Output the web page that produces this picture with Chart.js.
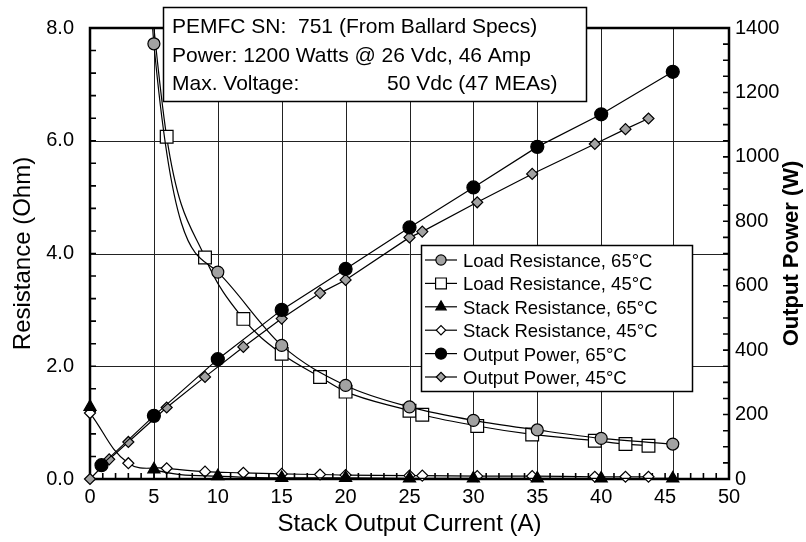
<!DOCTYPE html>
<html>
<head>
<meta charset="utf-8">
<script src="https://cdn.jsdelivr.net/npm/chart.js@4.4.1/dist/chart.umd.min.js"></script>
<style>
  body { margin: 0; background: #fff; }
  #wrap { width: 806px; height: 542px; }
</style>
</head>
<body>
<div id="wrap"><canvas id="fuelCellChart" width="806" height="542"></canvas></div>
<script>
// 65 C runs
const curLoad65  = [0.9, 5, 10, 15, 20, 25, 30, 35, 40, 45.6];
const loadR65    = [53, 7.72, 3.67, 2.37, 1.66, 1.28, 1.04, 0.87, 0.72, 0.62];
const curStack65 = [0, 5, 10, 15, 20, 25, 30, 35, 40, 45.6];
const stackR65   = [1.28, 0.17, 0.05, 0.02, 0.02, 0.01, 0.01, 0.01, 0.01, 0.01];
const curPow65   = [0.9, 5, 10, 15, 20, 25, 30, 35, 40, 45.6];
const pow65      = [43, 196, 372, 525, 652, 781, 905, 1031, 1132, 1264];

// 45 C runs
const curLoad45  = [3, 6, 9, 12, 15, 18, 20, 25, 26, 30.3, 34.6, 39.5, 41.9, 43.7];
const loadR45    = [12.8, 6.07, 3.93, 2.84, 2.22, 1.81, 1.55, 1.21, 1.14, 0.94, 0.79, 0.68, 0.62, 0.59];
const curStack45 = [0, 3, 6, 9, 12, 15, 18, 20, 25, 26, 30.3, 34.6, 39.5, 41.9, 43.7];
const stackR45   = [1.17, 0.28, 0.19, 0.13, 0.11, 0.09, 0.08, 0.07, 0.06, 0.06, 0.05, 0.05, 0.04, 0.04, 0.04];
const curPow45   = [0, 1.5, 3, 6, 9, 12, 15, 18, 20, 25, 26, 30.3, 34.6, 39.5, 41.9, 43.7];
const pow45      = [0, 61, 115, 222, 317, 410, 498, 577, 618, 750, 768, 859, 947, 1040, 1086, 1119];

const labels = ['Load Resistance, 65\u00B0C', 'Load Resistance, 45\u00B0C', 'Stack Resistance, 65\u00B0C',
                'Stack Resistance, 45\u00B0C', 'Output Power, 65\u00B0C', 'Output Power, 45\u00B0C'];

// axes
const xTicks = [0, 5, 10, 15, 20, 25, 30, 35, 40, 45, 50];
const gridX  = [5, 10, 15, 20, 25, 30, 35, 40, 45.6];
const gridY  = [2, 4, 6];
const xMinor = 1, yMinor = 0.4, y1Minor = 50;
const xTitle = 'Stack Output Current (A)';
const yTitle = 'Resistance (Ohm)';
const y1Title = 'Output Power (W)';

const boxLines = ['PEMFC SN:  751 (From Ballard Specs)', 'Power: 1200 Watts @ 26 Vdc, 46 Amp', 'Max. Voltage:', '50 Vdc (47 MEAs)'];

const FONT = '"Liberation Sans", Arial, Helvetica, sans-serif';
const grey = '#a2a2a2';

Chart.defaults.font.family = FONT;
Chart.defaults.color = '#000';

const series = (label, xs, ys, axis, style, fill, radius, smooth) => ({
  label: label,
  yAxisID: axis,
  data: xs.map((v, i) => ({x: v, y: ys[i]})),
  showLine: true,
  borderColor: '#000',
  borderWidth: 1.2,
  pointStyle: style,
  pointRadius: radius,
  pointHoverRadius: radius,
  pointBackgroundColor: fill,
  pointBorderColor: '#000',
  pointBorderWidth: 1.2,
  cubicInterpolationMode: smooth ? 'monotone' : 'default',
  tension: 0,
  clip: {left: 10, top: 0, right: 10, bottom: 10}
});

const datasets = [
  series(labels[0], curLoad65, loadR65, 'y', 'circle', grey, 6, true),
  series(labels[1], curLoad45, loadR45, 'y', 'rect', '#fff', 9, true),
  series(labels[2], curStack65, stackR65, 'y', 'triangle', '#000', 7, true),
  series(labels[3], curStack45, stackR45, 'y', 'rectRot', '#fff', 5.5, false),
  series(labels[4], curPow65, pow65, 'y1', 'circle', '#000', 6.5, false),
  series(labels[5], curPow45, pow45, 'y1', 'rectRot', grey, 5.5, false)
];
// the 65 C stack curve has no line drawn from its zero-current point
datasets[2].segment = { borderColor: c => c.p0DataIndex === 0 ? 'rgba(0,0,0,0)' : undefined };
datasets[3].tension = 0.4;

// grid lines, inner ticks and the frame
const frame = {
  id: 'frame',
  beforeDatasetsDraw(chart) {
    const {ctx, chartArea: a, scales} = chart;
    const x = scales.x, y = scales.y, y1 = scales.y1;
    ctx.save();
    ctx.strokeStyle = '#222';
    ctx.lineWidth = 1;
    ctx.beginPath();
    gridX.forEach(v => {
      const px = Math.round(x.getPixelForValue(v)) + 0.5;
      ctx.moveTo(px, a.top); ctx.lineTo(px, a.bottom);
    });
    gridY.forEach(v => {
      const py = Math.round(y.getPixelForValue(v)) + 0.5;
      ctx.moveTo(a.left, py); ctx.lineTo(a.right, py);
    });
    ctx.stroke();

    ctx.strokeStyle = '#000';
    ctx.lineWidth = 1.6;
    ctx.beginPath();
    for (let v = x.min; v <= x.max + 1e-9; v += xMinor) {
      const px = x.getPixelForValue(v);
      ctx.moveTo(px, a.bottom); ctx.lineTo(px, a.bottom - 6);
    }
    for (let v = y.min; v <= y.max + 1e-9; v += yMinor) {
      const py = y.getPixelForValue(v);
      ctx.moveTo(a.left, py); ctx.lineTo(a.left + 6, py);
    }
    for (let v = y1.min; v <= y1.max + 1e-9; v += y1Minor) {
      const py = y1.getPixelForValue(v);
      ctx.moveTo(a.right, py); ctx.lineTo(a.right - 6, py);
    }
    ctx.stroke();

    ctx.lineWidth = 2.5;
    ctx.strokeRect(a.left, a.top, a.right - a.left, a.bottom - a.top);
    ctx.restore();
  }
};

// spec box, legend box and the right axis title
const notes = {
  id: 'notes',
  afterDraw(chart) {
    const ctx = chart.ctx;
    const a = chart.chartArea;
    ctx.save();

    ctx.fillStyle = '#fff';
    ctx.fillRect(163, 7, 424, 95);
    ctx.strokeStyle = '#000';
    ctx.lineWidth = 1.5;
    ctx.strokeRect(163.5, 7.5, 423, 94);
    ctx.fillStyle = '#000';
    ctx.font = '21px ' + FONT;
    ctx.textAlign = 'left';
    ctx.textBaseline = 'alphabetic';
    ctx.fillText(boxLines[0], 172, 33);
    ctx.fillText(boxLines[1], 172, 61.5);
    ctx.fillText(boxLines[2], 172, 89.5);
    ctx.fillText(boxLines[3], 387, 89.5);

    const lx = 421, ly = 245, lw = 272, lh = 147;
    ctx.fillStyle = '#fff';
    ctx.fillRect(lx, ly, lw, lh);
    ctx.lineWidth = 1.5;
    ctx.strokeRect(lx + 0.5, ly + 0.5, lw - 1, lh - 1);
    ctx.font = '18.5px ' + FONT;
    chart.data.datasets.forEach((ds, i) => {
      const cy = ly + 15 + i * 23.4;
      ctx.strokeStyle = '#000';
      ctx.lineWidth = 1.2;
      ctx.beginPath();
      ctx.moveTo(lx + 4, cy); ctx.lineTo(lx + 36, cy);
      ctx.stroke();
      ctx.fillStyle = ds.pointBackgroundColor;
      ctx.lineWidth = 1.2;
      Chart.helpers.drawPoint(ctx, {pointStyle: ds.pointStyle, rotation: 0, radius: ds.pointRadius * 0.85, borderWidth: 1.2}, lx + 20, cy);
      ctx.fillStyle = '#000';
      ctx.fillText(ds.label, lx + 42, cy + 7);
    });

    ctx.translate(792, (a.top + a.bottom) / 2);
    ctx.rotate(-Math.PI / 2);
    ctx.font = 'bold 22px ' + FONT;
    ctx.textAlign = 'center';
    ctx.textBaseline = 'middle';
    ctx.fillText(y1Title, 0, 0);
    ctx.restore();
  }
};

const chart = new Chart('fuelCellChart', {
  type: 'scatter',
  data: { datasets: datasets },
  options: {
    responsive: false,
    animation: false,
    events: [],
    layout: { padding: { top: 27, left: 0, right: 0, bottom: 0 } },
    plugins: { legend: { display: false }, tooltip: { enabled: false } },
    scales: {
      x: {
        type: 'linear', min: 0, max: 50,
        afterBuildTicks: s => { s.ticks = xTicks.map(v => ({value: v})); },
        ticks: { padding: 6, font: { size: 20 }, color: '#000', callback: v => String(v) },
        grid: { display: false, drawTicks: false },
        border: { display: false },
        title: { display: true, text: xTitle, font: { size: 24 }, padding: { top: 0, bottom: 3 } },
        afterFit: s => { s.height = 63; }
      },
      y: {
        position: 'left', min: 0, max: 8,
        ticks: { stepSize: 2, padding: 16, font: { size: 20 }, color: '#000', callback: v => v.toFixed(1) },
        grid: { display: false, drawTicks: false },
        border: { display: false },
        title: { display: true, text: yTitle, font: { size: 24 }, padding: { top: 9, bottom: 0 } },
        afterFit: s => { s.width = 90; }
      },
      y1: {
        position: 'right', min: 0, max: 1400,
        ticks: { stepSize: 200, padding: 6, font: { size: 20 }, color: '#000', callback: v => String(v) },
        grid: { display: false, drawTicks: false },
        border: { display: false },
        afterFit: s => { s.width = 77; }
      }
    }
  },
  plugins: [frame, notes]
});
</script>
</body>
</html>
